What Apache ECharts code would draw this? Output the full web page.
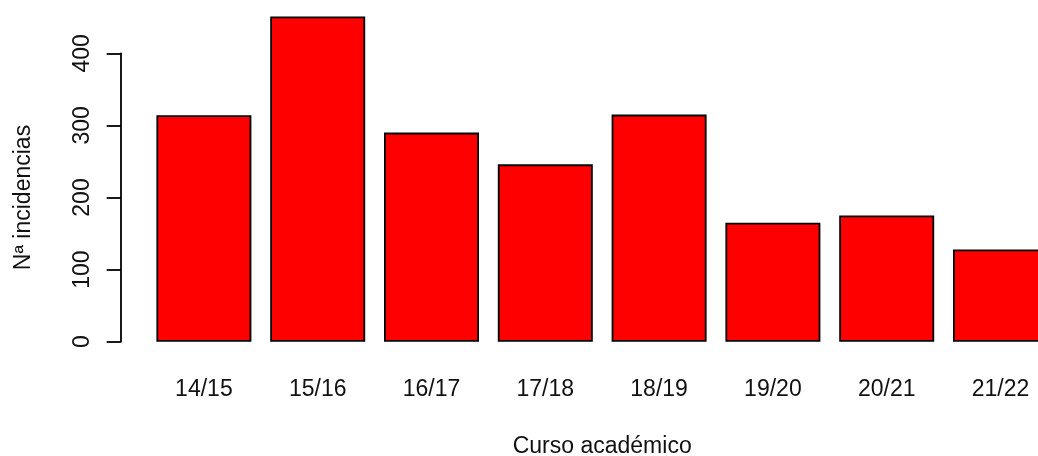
<!DOCTYPE html>
<html>
<head>
<meta charset="utf-8">
<script src="https://cdn.jsdelivr.net/npm/echarts@6/dist/echarts.min.js"></script>
<style>
  html, body { margin: 0; padding: 0; background: #fff; overflow: hidden; }
  #chart { width: 1038px; height: 456px; }
</style>
</head>
<body>
<div id="chart"></div>
<script>
// Incidencias registradas por curso académico
const cursos = ['14/15', '15/16', '16/17', '17/18', '18/19', '19/20', '20/21', '21/22'];
const incidencias = [314, 451, 290, 246, 315, 165, 175, 128];
const yTicks = [0, 100, 200, 300, 400];

const FONT = 'Liberation Sans, Arial, sans-serif';
const chart = echarts.init(document.getElementById('chart'), null, { renderer: 'canvas' });

chart.setOption({
  animation: false,
  backgroundColor: '#ffffff',
  grid: {
    left: 147, top: 53.3, right: -19.4, bottom: 114.3,
    containLabel: false, outerBoundsMode: 'none'
  },
  xAxis: {
    type: 'category',
    data: cursos,
    boundaryGap: true,
    axisLine: { show: false },
    axisTick: { show: false },
    axisLabel: { interval: 0, color: '#111', fontFamily: FONT, fontSize: 23, margin: 36 },
    name: 'Curso académico',
    nameLocation: 'middle',
    nameGap: 93,
    nameTextStyle: { color: '#111', fontFamily: FONT, fontSize: 23 }
  },
  yAxis: {
    type: 'value',
    min: yTicks[0],
    max: yTicks[yTicks.length - 1],
    interval: 100,
    offset: 26.3,
    axisLine: { show: true, lineStyle: { color: '#000', width: 1.8 } },
    axisTick: { show: true, length: 14, lineStyle: { color: '#000', width: 1.8 } },
    splitLine: { show: false },
    axisLabel: {
      rotate: 90, color: '#111', fontFamily: FONT, fontSize: 23, margin: 27,
      formatter: v => yTicks.includes(v) ? String(v) : ''
    },
    name: 'Nª incidencias',
    nameLocation: 'middle',
    nameGap: 86,
    nameRotate: 90,
    nameTextStyle: { color: '#111', fontFamily: FONT, fontSize: 23 }
  },
  series: [{
    type: 'bar',
    data: incidencias,
    barWidth: 95,
    clip: false,
    itemStyle: { color: '#ff0000', borderColor: '#000', borderWidth: 1.8 }
  }]
});
</script>
</body>
</html>
